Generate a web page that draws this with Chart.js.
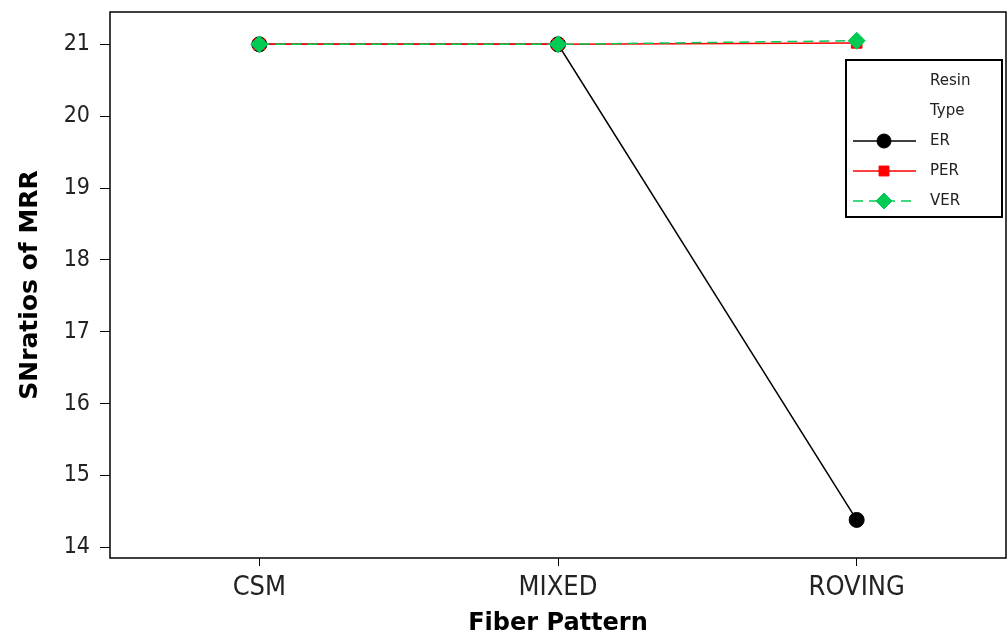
<!DOCTYPE html>
<html>
<head>
<meta charset="utf-8">
<script src="https://cdn.jsdelivr.net/npm/chart.js@4/dist/chart.umd.min.js"></script>
<style>
  html, body { margin: 0; padding: 0; background: #fff; }
  #wrap { width: 1008px; height: 637px; }
</style>
</head>
<body>
<div id="wrap"><canvas id="mainChart" width="1008" height="637"></canvas></div>
<script>
// Chart Data

var fiberPatterns = ["CSM", "MIXED", "ROVING"];
var erValues  = [21.0, 21.0, 14.38];
var perValues = [21.0, 21.0, 21.02];
var verValues = [21.0, 21.0, 21.05];
var yTicks = [14, 15, 16, 17, 18, 19, 20, 21];

var seriesNames  = ["ER", "PER", "VER"];
var seriesColors = ["#000000", "#ff0000", "#00cc55"];
var seriesPoints = ["circle", "rect", "rectRot"];
var seriesRadius = [7.5, 7.5, 8.5];
var seriesDash   = [[], [], [10, 6]];

var condensed = "'DejaVu Sans Condensed', 'DejaVu Sans'";

// frame around the plot area
var frame = {
  id: "frame",
  afterDraw: function(chart) {
    var a = chart.chartArea, ctx = chart.ctx;
    ctx.save();
    ctx.strokeStyle = "#000";
    ctx.lineWidth = 1.5;
    ctx.strokeRect(a.left, a.top, a.right - a.left, a.bottom - a.top);
    ctx.restore();
  }
};

// boxed legend with a two line title
var resinLegend = {
  id: "resinLegend",
  afterDraw: function(chart) {
    var ctx = chart.ctx;
    var x = 846, y = 60, w = 156, h = 157;
    ctx.save();
    ctx.fillStyle = "#fff";
    ctx.fillRect(x, y, w, h);
    ctx.strokeStyle = "#000";
    ctx.lineWidth = 2;
    ctx.strokeRect(x, y, w, h);

    ctx.font = "15px 'DejaVu Sans'";
    ctx.textBaseline = "middle";
    ctx.fillStyle = "#222";
    ctx.fillText("Resin", 930, 81);
    ctx.fillText("Type", 930, 111);

    for (var i = 0; i < seriesNames.length; i++) {
      var ly = 141 + i * 30;
      ctx.strokeStyle = seriesColors[i];
      ctx.fillStyle = seriesColors[i];
      ctx.lineWidth = 1.5;
      ctx.setLineDash(seriesDash[i]);
      ctx.beginPath();
      ctx.moveTo(853, ly);
      ctx.lineTo(916, ly);
      ctx.stroke();
      ctx.setLineDash([]);
      ctx.lineWidth = 1;
      Chart.helpers.drawPoint(ctx, {
        pointStyle: seriesPoints[i],
        radius: seriesRadius[i] - 0.5,
        rotation: 0,
        borderWidth: 1
      }, 884, ly);
      ctx.fillStyle = "#222";
      ctx.fillText(seriesNames[i], 930, ly);
    }
    ctx.restore();
  }
};

var allValues = [erValues, perValues, verValues];
var datasets = seriesNames.map(function(name, i) {
  return {
    label: name,
    data: allValues[i],
    borderColor: seriesColors[i],
    backgroundColor: seriesColors[i],
    borderWidth: 1.5,
    borderDash: seriesDash[i],
    pointStyle: seriesPoints[i],
    pointRadius: seriesRadius[i],
    pointBorderWidth: 1,
    tension: 0,
    order: 3 - i
  };
});

new Chart(document.getElementById("mainChart").getContext("2d"), {
  type: "line",
  data: { labels: fiberPatterns, datasets: datasets },
  plugins: [frame, resinLegend],
  options: {
    responsive: false,
    animation: false,
    devicePixelRatio: 1,
    layout: { autoPadding: false, padding: { top: 12, right: 2, left: 0, bottom: 0 } },
    plugins: { legend: { display: false }, tooltip: { enabled: false } },
    scales: {
      x: {
        type: "category",
        offset: true,
        grid: { display: true, drawOnChartArea: false, drawTicks: true, tickLength: 8, tickColor: "#000" },
        border: { display: false },
        ticks: { color: "#222", font: { family: condensed, size: 27 }, padding: 6, maxRotation: 0 },
        title: { display: true, text: "Fiber Pattern", color: "#000", font: { family: "DejaVu Sans", size: 24, weight: "bold", lineHeight: 0.8 }, padding: { top: 0 } },
        afterFit: function(s) { s.height = 79; s.paddingLeft = 0; s.paddingRight = 0; }
      },
      y: {
        min: 13.85,
        max: 21.45,
        afterBuildTicks: function(s) { s.ticks = yTicks.map(function(v) { return { value: v }; }); },
        grid: { display: true, drawOnChartArea: false, drawTicks: true, tickLength: 10, tickColor: "#000" },
        border: { display: false },
        ticks: { color: "#222", font: { family: condensed, size: 23 }, padding: 10 },
        title: { display: true, text: "SNratios of MRR", color: "#000", font: { family: "DejaVu Sans", size: 25, weight: "bold" }, padding: { top: 15 } },
        afterFit: function(s) { s.width = 110; s.paddingTop = 0; s.paddingBottom = 0; }
      }
    }
  }
});
</script>
</body>
</html>
